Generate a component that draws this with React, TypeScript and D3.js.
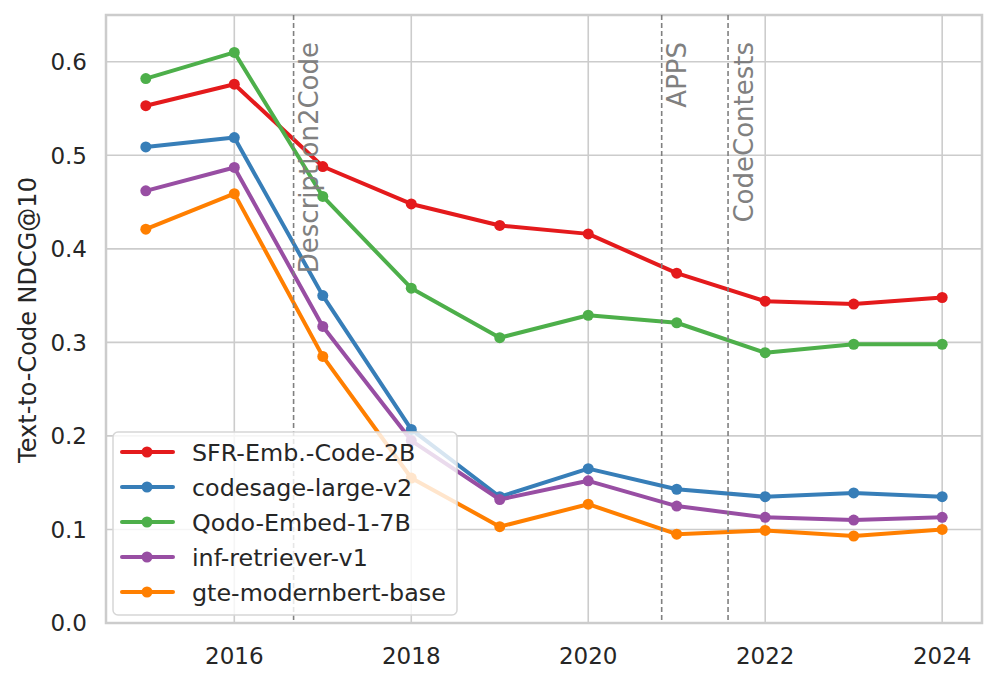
import React from 'react';
import * as d3 from 'd3';

const years = [2015, 2016, 2017, 2018, 2019, 2020, 2021, 2022, 2023, 2024];

const sfrValues = [0.553, 0.576, 0.488, 0.448, 0.425, 0.416, 0.374, 0.344, 0.341, 0.348];
const codesageValues = [0.509, 0.519, 0.35, 0.207, 0.135, 0.165, 0.143, 0.135, 0.139, 0.135];
const qodoValues = [0.582, 0.61, 0.456, 0.358, 0.305, 0.329, 0.321, 0.289, 0.298, 0.298];
const infValues = [0.462, 0.487, 0.317, 0.195, 0.132, 0.152, 0.125, 0.113, 0.11, 0.113];
const gteValues = [0.421, 0.459, 0.285, 0.155, 0.103, 0.127, 0.095, 0.099, 0.093, 0.1];

const seriesNames = [
  'SFR-Emb.-Code-2B',
  'codesage-large-v2',
  'Qodo-Embed-1-7B',
  'inf-retriever-v1',
  'gte-modernbert-base',
];
const seriesColors = ['#e41a1c', '#377eb8', '#4daf4a', '#984ea3', '#ff7f00'];

const releaseNames = ['Description2Code', 'APPS', 'CodeContests'];
const releaseYears = [2016.67, 2020.83, 2021.58];

const xTicks = [2016, 2018, 2020, 2022, 2024];
const yTicks = [0, 0.1, 0.2, 0.3, 0.4, 0.5, 0.6];

const W = 997;
const H = 683;
const margin = { top: 15, right: 15, bottom: 60, left: 106 };
const FONT = 'DejaVu Sans, sans-serif';

export default function App() {
  const allSeries = [sfrValues, codesageValues, qodoValues, infValues, gteValues];

  const x = d3
    .scaleLinear()
    .domain([2014.55, 2024.45])
    .range([margin.left, W - margin.right]);
  const y = d3
    .scaleLinear()
    .domain([0, 0.65])
    .range([H - margin.bottom, margin.top]);

  const line = d3
    .line<number>()
    .x((_, i) => x(years[i]))
    .y((d) => y(d));

  const top = margin.top;
  const bottom = H - margin.bottom;
  const left = margin.left;
  const right = W - margin.right;

  // legend box
  const lg = { x: 113, y: 432, w: 344, h: 183, row: 35 };

  return (
    <div style={{ position: 'absolute', left: 0, top: 0 }}>
      <svg width={W} height={H} style={{ display: 'block', background: '#fff' }}>
        {/* grid */}
        <g stroke="#cccccc" strokeWidth={1.6}>
          {xTicks.map((t) => (
            <line key={'gx' + t} x1={x(t)} x2={x(t)} y1={top} y2={bottom} />
          ))}
          {yTicks.map((t) => (
            <line key={'gy' + t} x1={left} x2={right} y1={y(t)} y2={y(t)} />
          ))}
        </g>

        {/* spines */}
        <rect
          x={left}
          y={top}
          width={right - left}
          height={bottom - top}
          fill="none"
          stroke="#cccccc"
          strokeWidth={2.5}
        />

        {/* tick labels */}
        <g fontFamily={FONT} fontSize={23} fill="#262626">
          {xTicks.map((t) => (
            <text key={'xt' + t} x={x(t)} y={bottom + 41} textAnchor="middle">
              {t}
            </text>
          ))}
          {yTicks.map((t) => (
            <text key={'yt' + t} x={left - 19} y={y(t)} dy="0.36em" textAnchor="end">
              {t.toFixed(1)}
            </text>
          ))}
        </g>

        {/* y label */}
        <text
          transform={`translate(36,${(top + bottom) / 2 + 1}) rotate(-90)`}
          textAnchor="middle"
          fontFamily={FONT}
          fontSize={24}
          fill="#262626"
        >
          Text-to-Code NDCG@10
        </text>

        {/* series */}
        {allSeries.map((vals, si) => (
          <g key={seriesNames[si]}>
            <path
              d={line(vals) || ''}
              fill="none"
              stroke={seriesColors[si]}
              strokeWidth={4}
              strokeLinejoin="round"
            />
            {vals.map((v, i) => (
              <circle key={i} cx={x(years[i])} cy={y(v)} r={5.5} fill={seriesColors[si]} />
            ))}
          </g>
        ))}

        {/* dataset release markers */}
        {releaseYears.map((ry, i) => (
          <g key={releaseNames[i]}>
            <line
              x1={x(ry)}
              x2={x(ry)}
              y1={top}
              y2={bottom}
              stroke="#808080"
              strokeWidth={1.6}
              strokeDasharray="5,3"
            />
            <text
              transform={`translate(${x(ry) + 5},42) rotate(-90)`}
              textAnchor="end"
              dy="0.76em"
              fontFamily={FONT}
              fontSize={26}
              fill="#808080"
            >
              {releaseNames[i]}
            </text>
          </g>
        ))}

        {/* legend */}
        <g>
          <rect
            x={lg.x}
            y={lg.y}
            width={lg.w}
            height={lg.h}
            rx={5}
            fill="#ffffff"
            fillOpacity={0.8}
            stroke="#d6d6d6"
            strokeWidth={1.5}
          />
          {seriesNames.map((name, i) => {
            const cy = lg.y + 20 + i * lg.row;
            return (
              <g key={'lg' + name}>
                <line
                  x1={lg.x + 9}
                  x2={lg.x + 60}
                  y1={cy}
                  y2={cy}
                  stroke={seriesColors[i]}
                  strokeWidth={4}
                  strokeLinecap="round"
                />
                <circle cx={lg.x + 34} cy={cy} r={5.5} fill={seriesColors[i]} />
                <text
                  x={lg.x + 79}
                  y={cy}
                  dy="0.36em"
                  fontFamily={FONT}
                  fontSize={23.8}
                  fill="#262626"
                >
                  {name}
                </text>
              </g>
            );
          })}
        </g>
      </svg>
    </div>
  );
}
